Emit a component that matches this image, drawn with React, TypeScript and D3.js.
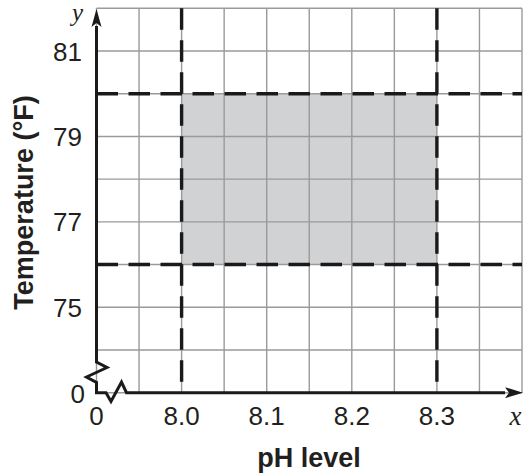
import React from 'react';
import * as d3 from 'd3';

// pH columns every 0.05, temperature rows every 1 degree (bottom row is the broken "0")
const phDomain = [7.9, 8.4];
const tempDomain = [73, 82];
const phTicks = [7.9, 8.0, 8.1, 8.2, 8.3];
const phTickLabels = ['0', '8.0', '8.1', '8.2', '8.3'];
const tempTicks = [73, 75, 77, 79, 81];
const tempTickLabels = ['0', '75', '77', '79', '81'];
const phRange = [8.0, 8.3]; // acceptable pH
const tempRange = [76, 80]; // acceptable temperature

const W = 525;
const H = 474;

const App: React.FC = () => {
  const x = d3.scaleLinear().domain(phDomain).range([96.5, 522]);
  const y = d3.scaleLinear().domain(tempDomain).range([392.7, 8.3]);

  const xGrid = d3.range(0, 11).map((i) => phDomain[0] + i * 0.05);
  const yGrid = d3.range(tempDomain[0], tempDomain[1] + 1);

  const x0 = x(phDomain[0]);
  const y0 = y(tempDomain[0]);
  const font = '"Liberation Sans", Arial, Helvetica, sans-serif';
  const dash = '21.5 10.5';

  // axis break zigzags
  const yBreak = d3.line()([
    [x0, 26], [x0, 362], [x0 + 10.5, 367.5], [x0 - 10, 377],
    [x0, 382.5], [x0, y0], [x0 + 9.5, y0], [x0 + 14.5, 401.5],
    [x0 + 25, 382], [x0 + 30, y0], [505, y0],
  ]);

  return (
    <svg width={W} height={H} style={{ position: 'absolute', left: 0, top: 0, background: '#fff' }}>
      {/* shaded feasible region */}
      <rect
        x={x(phRange[0])}
        y={y(tempRange[1])}
        width={x(phRange[1]) - x(phRange[0])}
        height={y(tempRange[0]) - y(tempRange[1])}
        fill="#d1d2d4"
      />
      {/* grid */}
      {xGrid.map((v, i) => (
        <line key={'gx' + i} x1={x(v)} x2={x(v)} y1={y(tempDomain[1])} y2={y0} stroke="#9a9a9a" strokeWidth={1.4} />
      ))}
      {yGrid.map((v, i) => (
        <line key={'gy' + i} x1={x0} x2={x(phDomain[1])} y1={y(v)} y2={y(v)} stroke="#9a9a9a" strokeWidth={1.4} />
      ))}
      {/* dashed boundaries */}
      {phRange.map((v, i) => (
        <line key={'dx' + i} x1={x(v)} x2={x(v)} y1={y(tempDomain[1])} y2={y0} stroke="#1a1a1a" strokeWidth={3.4} strokeDasharray={dash} />
      ))}
      {tempRange.map((v, i) => (
        <line key={'dy' + i} x1={x0} x2={x(phDomain[1])} y1={y(v)} y2={y(v)} stroke="#1a1a1a" strokeWidth={3.4} strokeDasharray={dash} />
      ))}
      {/* axes with break */}
      <path d={yBreak ?? ''} fill="none" stroke="#1a1a1a" strokeWidth={3} strokeLinejoin="miter" />
      <path d={`M${x0},9 L${x0 - 5},27 L${x0},23 L${x0 + 5},27 Z`} fill="#1a1a1a" />
      <path d={`M523,${y0} L505,${y0 - 5.5} L509,${y0} L505,${y0 + 5.5} Z`} fill="#1a1a1a" />
      {/* tick labels */}
      {phTicks.map((v, i) => (
        <text key={'tx' + i} x={x(v)} y={424.5} textAnchor="middle" fontFamily={font} fontSize={26} fill="#231f20">
          {phTickLabels[i]}
        </text>
      ))}
      {tempTicks.map((v, i) => (
        <text
          key={'ty' + i}
          x={i === 0 ? 85 : 82}
          y={i === 0 ? y(v) + 10.5 : y(v) + 9.5}
          textAnchor="end"
          fontFamily={font}
          fontSize={26}
          fill="#231f20"
        >
          {tempTickLabels[i]}
        </text>
      ))}
      {/* axis letters */}
      <text x={77.5} y={21} textAnchor="middle" fontFamily='"Liberation Serif", "Times New Roman", serif' fontStyle="italic" fontSize={25} fill="#231f20">y</text>
      <text x={515.5} y={425} textAnchor="middle" fontFamily='"Liberation Serif", "Times New Roman", serif' fontStyle="italic" fontSize={27} fill="#231f20">x</text>
      {/* axis titles */}
      <text x={309} y={467} textAnchor="middle" fontFamily={font} fontWeight="bold" fontSize={27} fill="#231f20">pH level</text>
      <text transform="translate(33,202.5) rotate(-90)" textAnchor="middle" fontFamily={font} fontWeight="bold" fontSize={27} fill="#231f20">
        Temperature (°F)
      </text>
    </svg>
  );
};

export default App;
